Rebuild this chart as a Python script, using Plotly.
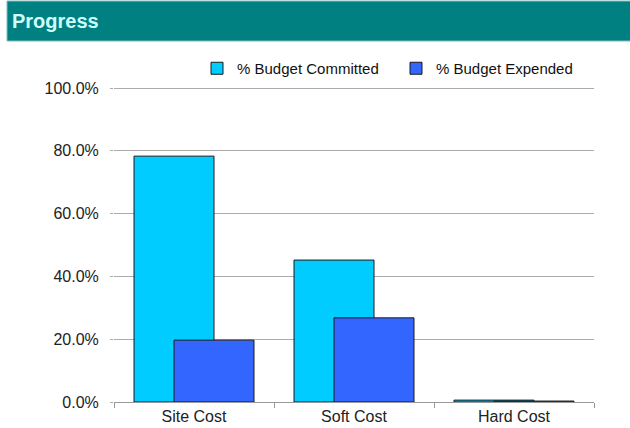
import plotly.graph_objects as go

categories = ["Site Cost", "Soft Cost", "Hard Cost"]
committed = [0.783, 0.452, 0.006]
expended = [0.197, 0.268, 0.003]
series_names = ["% Budget Committed", "% Budget Expended"]
y_ticks = [0, 0.2, 0.4, 0.6, 0.8, 1.0]
y_tick_labels = ["0.0%", "20.0%", "40.0%", "60.0%", "80.0%", "100.0%"]

FONT = "Liberation Sans, Arial, sans-serif"

fig = go.Figure()
fig.add_trace(go.Bar(
    x=categories, y=committed, name=series_names[0],
    marker=dict(color="#00CCFF", line=dict(color="#1a1a1a", width=1)),
    offset=-0.375, width=0.5, legend="legend",
))
fig.add_trace(go.Bar(
    x=categories, y=expended, name=series_names[1],
    marker=dict(color="#3366FF", line=dict(color="#1a1a1a", width=1)),
    offset=-0.125, width=0.5, legend="legend2",
))

L, R, T, B = 114, 36, 86, 26
W, H = 630, 428
pw, ph = W - L - R, H - T - B
ymax = 1.0 + 2.0 / 314.0

def px_x(p):
    return (p - L) / pw

def px_y(p):
    return (H - B - p) / ph

leg_common = dict(
    orientation="h", xanchor="left", yanchor="top",
    font=dict(size=15, color="#111111"),
    itemwidth=30, bgcolor="rgba(0,0,0,0)",
)

fig.update_layout(
    width=W, height=H,
    margin=dict(l=L, r=R, t=T, b=B, autoexpand=False),
    barmode="overlay",
    plot_bgcolor="white", paper_bgcolor="white",
    font=dict(family=FONT, size=16, color="#222222"),
    showlegend=True,
    legend=dict(x=px_x(197), y=px_y(52), **leg_common),
    legend2=dict(x=px_x(396), y=px_y(52), **leg_common),
    xaxis=dict(
        type="category", range=[-0.5, 2.5],
        showline=True, linecolor="#999999", linewidth=1,
        ticks="outside", tickson="boundaries", ticklen=5, tickcolor="#999999",
        showgrid=False, tickfont=dict(size=16),
    ),
    yaxis=dict(
        range=[0, ymax], tickvals=y_ticks, ticktext=y_tick_labels,
        showgrid=True, gridcolor="#ababab", gridwidth=1,
        ticks="outside", ticklen=3, tickcolor="#ababab",
        showline=False, zeroline=False,
        ticklabelstandoff=8, tickfont=dict(size=16),
    ),
    shapes=[dict(
        type="rect", xref="paper", yref="paper",
        x0=px_x(7), x1=px_x(632), y0=px_y(41), y1=px_y(1),
        fillcolor="#008080", line=dict(color="#7fbfbf", width=1), layer="below",
    )],
    annotations=[dict(
        text="<b>Progress</b>", xref="paper", yref="paper",
        x=px_x(10), y=px_y(21), xanchor="left", yanchor="middle",
        showarrow=False, font=dict(family=FONT, size=20, color="#ccffff"),
    )],
)

fig.write_html("out.html", config={"displayModeBar": False},
               post_script="document.body.style.margin='0';")
